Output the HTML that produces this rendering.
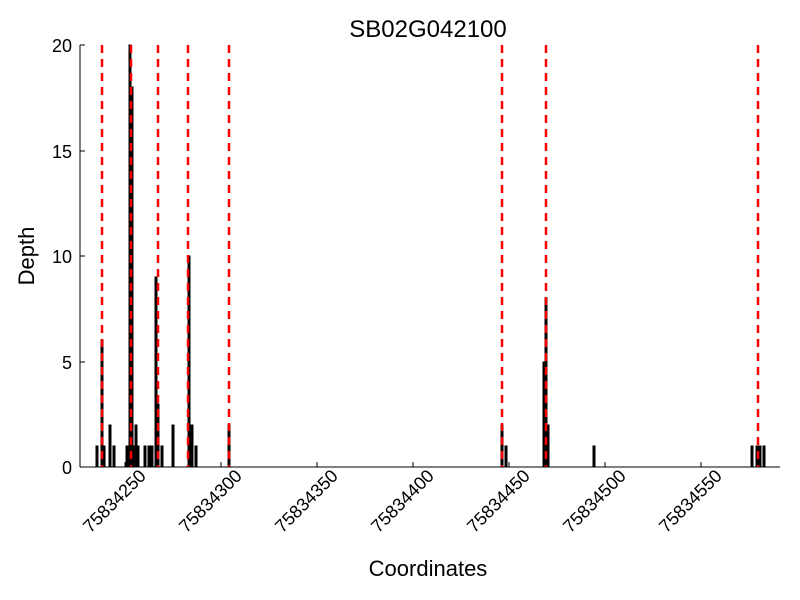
<!DOCTYPE html>
<html><head><meta charset="utf-8"><style>body{margin:0;background:#fff}svg{display:block}</style></head><body>
<svg width="800" height="600" xmlns="http://www.w3.org/2000/svg" font-family="Liberation Sans, sans-serif">
<rect width="800" height="600" fill="#fff"/>
<text x="428" y="37" font-size="24" text-anchor="middle">SB02G042100</text>
<g stroke="#000" stroke-width="1" fill="#000">
<rect x="96" y="446" width="2" height="21"/>
<rect x="101" y="340" width="2" height="127"/>
<rect x="103" y="446" width="2" height="21"/>
<rect x="109" y="425" width="2" height="42"/>
<rect x="113" y="446" width="2" height="21"/>
<rect x="126" y="446" width="2" height="21"/>
<rect x="129" y="45" width="2" height="422"/>
<rect x="131" y="87" width="2" height="380"/>
<rect x="133" y="446" width="2" height="21"/>
<rect x="135" y="425" width="2" height="42"/>
<rect x="137" y="446" width="2" height="21"/>
<rect x="144" y="446" width="2" height="21"/>
<rect x="148" y="446" width="2" height="21"/>
<rect x="151" y="446" width="2" height="21"/>
<rect x="155" y="277" width="2" height="190"/>
<rect x="157" y="404" width="2" height="63"/>
<rect x="161" y="446" width="2" height="21"/>
<rect x="172" y="425" width="2" height="42"/>
<rect x="188" y="256" width="2" height="211"/>
<rect x="191" y="425" width="2" height="42"/>
<rect x="195" y="446" width="2" height="21"/>
<rect x="228" y="425" width="2" height="42"/>
<rect x="501" y="425" width="2" height="42"/>
<rect x="505" y="446" width="2" height="21"/>
<rect x="543" y="362" width="2" height="105"/>
<rect x="545" y="298" width="2" height="169"/>
<rect x="547" y="425" width="2" height="42"/>
<rect x="593" y="446" width="2" height="21"/>
<rect x="751" y="446" width="2" height="21"/>
<rect x="756" y="446" width="2" height="21"/>
<rect x="759" y="446" width="2" height="21"/>
<rect x="763" y="446" width="2" height="21"/>
</g>
<g stroke="#f00" stroke-width="2.5" stroke-dasharray="8,6">
<line x1="102" y1="45" x2="102" y2="467"/>
<line x1="131" y1="45" x2="131" y2="467"/>
<line x1="158" y1="45" x2="158" y2="467"/>
<line x1="188" y1="45" x2="188" y2="467"/>
<line x1="229" y1="45" x2="229" y2="467"/>
<line x1="502" y1="45" x2="502" y2="467"/>
<line x1="546" y1="45" x2="546" y2="467"/>
<line x1="758" y1="45" x2="758" y2="467"/>
</g>
<g stroke="#000" stroke-width="1">
<line x1="80" y1="45" x2="80" y2="467"/>
<line x1="80" y1="467" x2="780" y2="467"/>
<line x1="80" y1="45" x2="85" y2="45"/>
<line x1="80" y1="151" x2="85" y2="151"/>
<line x1="80" y1="256" x2="85" y2="256"/>
<line x1="80" y1="362" x2="85" y2="362"/>
<line x1="125" y1="467" x2="125" y2="462"/>
<line x1="221" y1="467" x2="221" y2="462"/>
<line x1="317" y1="467" x2="317" y2="462"/>
<line x1="413" y1="467" x2="413" y2="462"/>
<line x1="509" y1="467" x2="509" y2="462"/>
<line x1="605" y1="467" x2="605" y2="462"/>
<line x1="701" y1="467" x2="701" y2="462"/>
</g>
<g font-size="18" text-anchor="end">
<text x="72" y="52">20</text>
<text x="72" y="158">15</text>
<text x="72" y="263">10</text>
<text x="72" y="369">5</text>
<text x="72" y="474">0</text>
</g>
<g font-size="18" text-anchor="end">
<text transform="translate(147,477) rotate(-45)">75834250</text>
<text transform="translate(243,477) rotate(-45)">75834300</text>
<text transform="translate(339,477) rotate(-45)">75834350</text>
<text transform="translate(435,477) rotate(-45)">75834400</text>
<text transform="translate(531,477) rotate(-45)">75834450</text>
<text transform="translate(627,477) rotate(-45)">75834500</text>
<text transform="translate(723,477) rotate(-45)">75834550</text>
</g>
<text x="428" y="576" font-size="22" text-anchor="middle">Coordinates</text>
<text transform="translate(34,256) rotate(-90)" font-size="22" text-anchor="middle">Depth</text>
</svg>
</body></html>
